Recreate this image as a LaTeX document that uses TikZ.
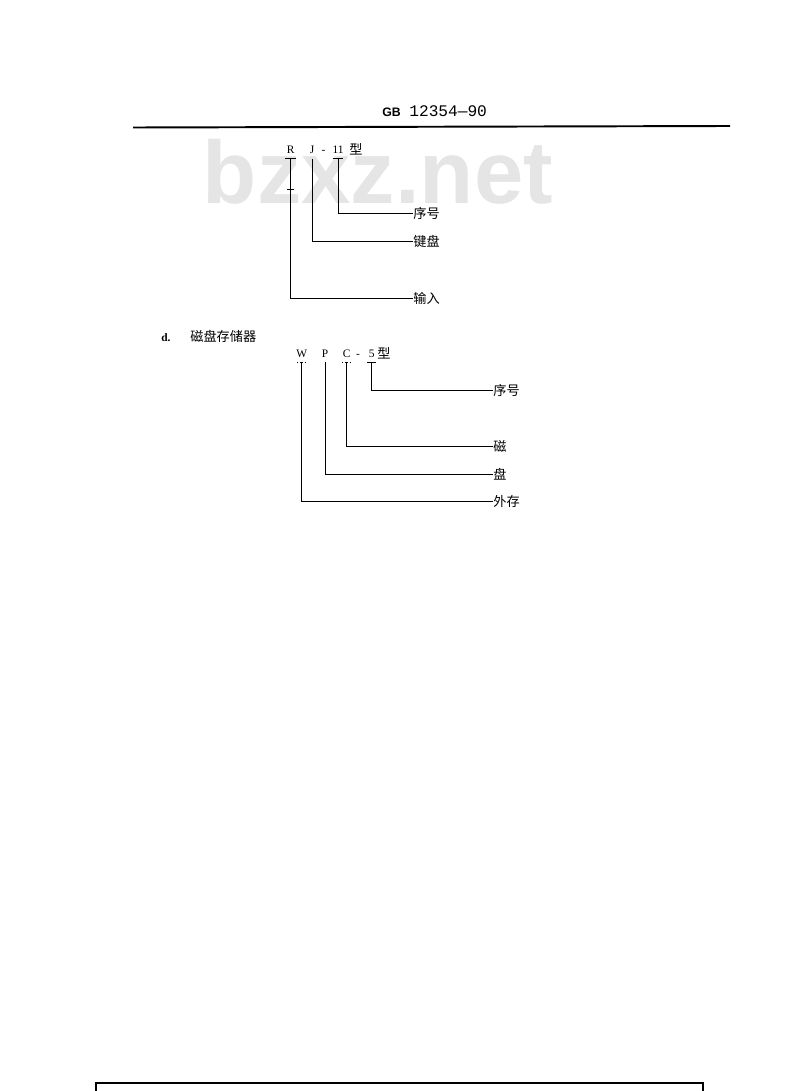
\documentclass[tikz,border=0pt]{standalone}
\usepackage{fontspec}
\setmainfont{Liberation Serif}
\newfontfamily\cjk{Noto Sans CJK SC}
\newfontfamily\hdfont{Liberation Sans}
\newfontfamily\digfont{Liberation Mono}
\tikzset{
  code/.style={inner sep=0pt, anchor=base, font=\fontsize{6.5}{6.5}\selectfont},
  lbl/.style={inner sep=0pt, anchor=west, font=\cjk\fontsize{7.5}{7.5}\selectfont},
  lead/.style={line width=0.55pt},
  tick/.style={line width=0.4pt}
}
\begin{document}
\begin{tikzpicture}[x=0.02cm,y=-0.02cm]
\useasboundingbox (0,0) rectangle (800,1091);
\node[font=\hdfont\bfseries\fontsize{50.5}{50.5}\selectfont, text=black!10] (wm) at (378,172) {bzxz.net};
\node[anchor=base west, inner sep=0pt, font=\hdfont\bfseries\fontsize{7}{7}\selectfont] (gb) at (382,117) {GB};
\node[anchor=base west, inner sep=0pt, font=\digfont\fontsize{9.2}{9.2}\selectfont] (num) at (409,117) {12354—90};
\draw[line width=1.1pt] (133,127.5) -- (730,126);
\node[code] (R) at (290.7,154) {R};
\node[code] (J) at (312,154) {J};
\node[code] (dash1) at (323.5,154) {-};
\node[code] (n11) at (338,154) {11};
\node[lbl, anchor=base west] (xing1) at (349,155) {型};
\node[lbl] (xh1) at (413,213) {序号};
\node[lbl] (jp) at (413,241) {键盘};
\node[lbl] (sr) at (413,298) {输入};
\foreach \n in {R,n11}
  \draw[tick] ([xshift=-3pt,yshift=-2pt]\n.south) -- ++(6pt,0);
\draw[tick] ([xshift=-2pt,yshift=-20pt]R.south) -- ++(4pt,0);
\draw[lead] ([yshift=-2pt]R.south) |- (sr.west);
\draw[lead] ([yshift=-2.5pt]J.south) |- (jp.west);
\draw[lead] ([yshift=-2pt]n11.south) |- (xh1.west);
\node[anchor=base west, inner sep=0pt, font=\fontsize{6.5}{6.5}\bfseries\selectfont] (dd) at (161,341) {d.};
\node[lbl, anchor=base west] (cpq) at (190,341) {磁盘存储器};
\node[code] (W) at (301.7,357) {W};
\node[code] (P) at (325,357) {P};
\node[code] (C) at (346.7,357) {C};
\node[code] (dash2) at (358,357) {-};
\node[code] (n5) at (371.7,357) {5};
\node[lbl, anchor=base west] (xing2) at (377,358) {型};
\node[lbl] (xh2) at (493,390.7) {序号};
\node[lbl] (ci) at (493,446.7) {磁};
\node[lbl] (pan) at (493,474) {盘};
\node[lbl] (wc) at (493,501.7) {外存};
\foreach \n in {W,C}
  \draw[tick, densely dotted] ([xshift=-2.5pt,yshift=-2.5pt]\n.south) -- ++(5pt,0);
\draw[tick] ([xshift=-2.5pt,yshift=-2.5pt]n5.south) -- ++(5pt,0);
\draw[lead] ([yshift=-2.5pt]W.south) |- (wc.west);
\draw[lead] ([yshift=-2.5pt]P.south) |- (pan.west);
\draw[lead] ([yshift=-2.5pt]C.south) |- (ci.west);
\draw[lead] ([yshift=-2.5pt]n5.south) |- (xh2.west);
\draw[line width=0.9pt] (96,1091) -- (96,1083) -- (703,1083) -- (703,1091);
\end{tikzpicture}
\end{document}
